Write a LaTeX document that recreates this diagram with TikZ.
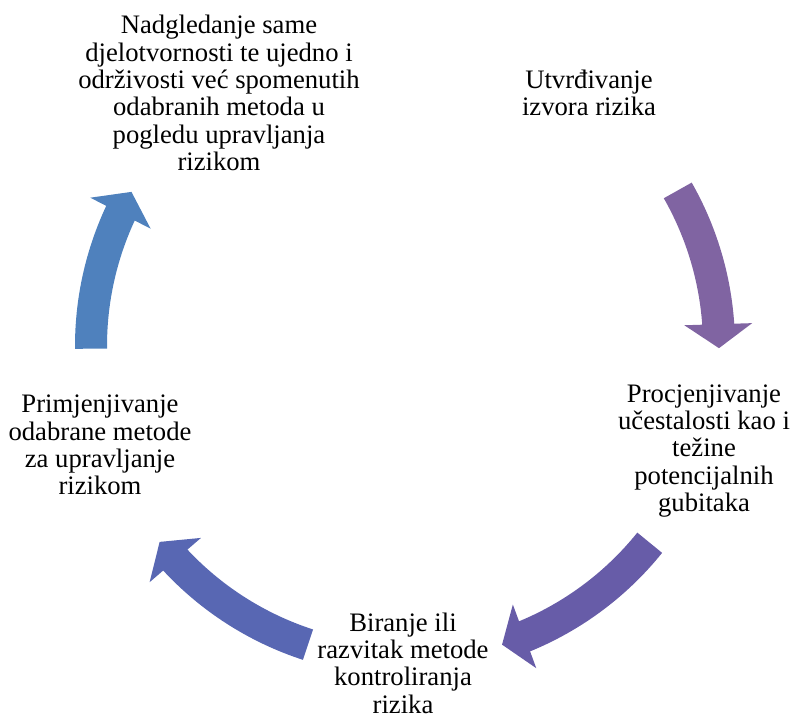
\documentclass[tikz,border=0pt]{standalone}
\usepackage{fontspec}
\setmainfont{Liberation Serif}
\newfontfamily\lblfont{Liberation Serif}
\usetikzlibrary{arrows.meta,bending}
\definecolor{arrA}{HTML}{8064A2}
\definecolor{arrB}{HTML}{675CA8}
\definecolor{arrC}{HTML}{5867B3}
\definecolor{arrD}{HTML}{4F81BD}
\tikzset{>={Triangle[width=50pt,length=18pt]},
  cyc/.style={line width=24pt,->},
  lbl/.style={align=center,inner sep=0pt,
    font=\lblfont\fontsize{20}{20.5}\selectfont}}

\begin{document}
\begin{tikzpicture}[x=0.75pt,y=0.75pt]
\useasboundingbox (0,0) rectangle (791,717);
\coordinate (ctr) at (405,371);
\node[lbl] (nadgl) at (219,624) {Nadgledanje same\\djelotvornosti te ujedno i\\održivosti već spomenutih\\odabranih metoda u\\pogledu upravljanja\\rizikom};
\node[lbl] (utvr) at (589,624) {Utvrđivanje\\izvora rizika};
\node[lbl] (procj) at (704,266) {Procjenjivanje\\učestalosti kao i\\težine\\potencijalnih\\gubitaka};
\node[lbl] (biranje) at (403,54) {Biranje ili\\razvitak metode\\kontroliranja\\rizika};
\node[lbl] (primj) at (100,272) {Primjenjivanje\\odabrane metode\\za upravljanje\\rizikom};
\draw[cyc,arrA] ([shift={(29.7:314)}]ctr)
  arc[start angle=29.7,end angle=-0.4,radius=314];
\draw[cyc,arrB] ([shift={(-38.8:314)}]ctr)
  arc[start angle=-38.8,end angle=-72,radius=314];
\draw[cyc,arrC] ([shift={(-108:314)}]ctr)
  arc[start angle=-108,end angle=-141.4,radius=314];
\draw[cyc,arrD] ([shift={(180.5:314)}]ctr)
  arc[start angle=180.5,end angle=150.6,radius=314];
\end{tikzpicture}
\end{document}
